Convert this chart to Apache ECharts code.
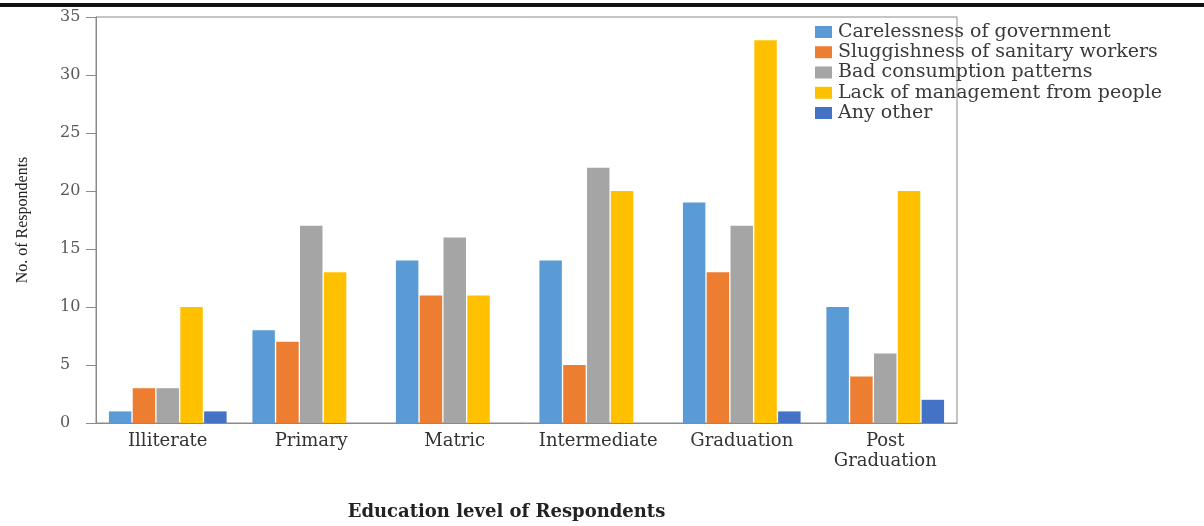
<!DOCTYPE html>
<html>
<head>
<meta charset="utf-8">
<script src="https://cdn.jsdelivr.net/npm/echarts@6/dist/echarts.min.js"></script>
<style>html,body{margin:0;padding:0;background:#fff}#c{width:1204px;height:526px}</style>
</head>
<body>
<div id="c"></div>
<script>
const categories = ['Illiterate', 'Primary', 'Matric', 'Intermediate', 'Graduation', 'Post\nGraduation'];
const seriesNames = ['Carelessness of government', 'Sluggishness of sanitary workers', 'Bad consumption patterns', 'Lack of management from people', 'Any other'];
const carelessness = [1, 8, 14, 14, 19, 10];
const sluggishness = [3, 7, 11, 5, 13, 4];
const badConsumption = [3, 17, 16, 22, 17, 6];
const lackManagement = [10, 13, 11, 20, 33, 20];
const anyOther = [1, 0, 0, 0, 1, 2];
const yTicks = [0, 5, 10, 15, 20, 25, 30, 35];
const colors = ['#5B9BD5', '#ED7D31', '#A5A5A5', '#FFC000', '#4472C4'];

const values = [carelessness, sluggishness, badConsumption, lackManagement, anyOther];
const chart = echarts.init(document.getElementById('c'));
chart.setOption({
  animation: false,
  color: colors,
  grid: { left: 96, right: 247, top: 17, bottom: 102, show: true, borderColor: '#8a8a8a', borderWidth: 1 },
  legend: {
    orient: 'vertical', left: 810, top: 17, itemWidth: 17, itemHeight: 12, itemGap: 0.25,
    icon: 'rect',
    textStyle: { fontFamily: 'DejaVu Serif', fontSize: 19, lineHeight: 20, color: '#3a3a3a', padding: [0, 0, 0, 1] },
    data: seriesNames
  },
  graphic: [
    { type: 'rect', left: 0, top: 3, shape: { width: 1204, height: 4 }, style: { fill: '#111' } }
  ],
  xAxis: {
    type: 'category', data: categories,
    axisLine: { lineStyle: { color: '#8a8a8a' } },
    axisTick: { show: false },
    axisLabel: { fontFamily: 'DejaVu Serif', fontSize: 18, lineHeight: 20, color: '#333', margin: 8, interval: 0 },
    name: 'Education level of Respondents', nameLocation: 'middle', nameGap: 80,
    nameTextStyle: { fontFamily: 'DejaVu Serif', fontWeight: 'bold', fontSize: 18, color: '#222', padding: [0, 40, 0, 0] }
  },
  yAxis: {
    type: 'value', min: yTicks[0], max: yTicks[yTicks.length - 1], interval: yTicks[1] - yTicks[0],
    splitLine: { show: false },
    axisLine: { show: true, lineStyle: { color: '#8a8a8a' } },
    axisTick: { show: true, length: 10, lineStyle: { color: '#8a8a8a' } },
    axisLabel: { fontFamily: 'DejaVu Serif', fontSize: 16, color: '#595959', margin: 36, align: 'left' },
    name: 'No. of Respondents', nameLocation: 'middle', nameGap: 65,
    nameTextStyle: { fontFamily: 'Liberation Serif', fontSize: 16, color: '#222' }
  },
  series: seriesNames.map((n, i) => ({
    name: n, type: 'bar', data: values[i],
    barGap: '6%', barCategoryGap: '18%'
  }))
});
</script>
</body>
</html>
